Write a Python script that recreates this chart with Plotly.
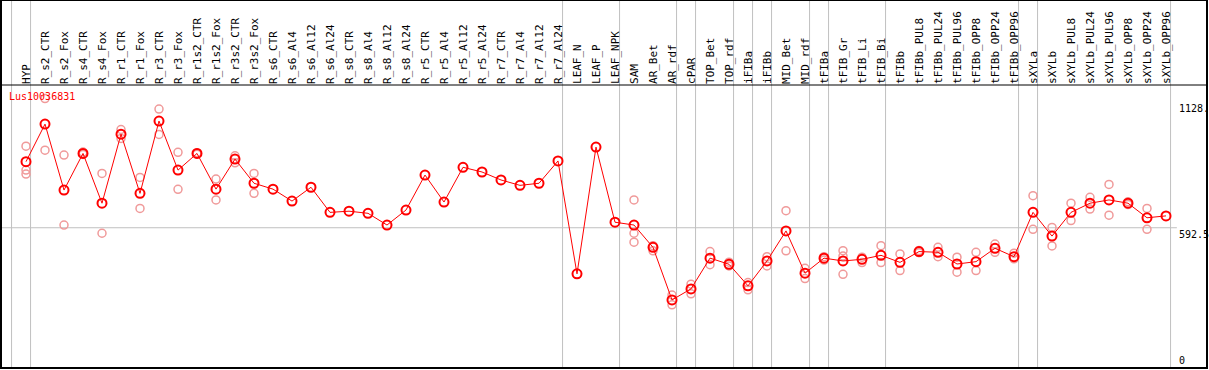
import plotly.graph_objects as go

categories = ["HYP", "R_s2_CTR", "R_s2_Fox", "R_s4_CTR", "R_s4_Fox", "R_r1_CTR", "R_r1_Fox",
              "R_r3_CTR", "R_r3_Fox", "R_r1s2_CTR", "R_r1s2_Fox", "R_r3s2_CTR", "R_r3s2_Fox",
              "R_s6_CTR", "R_s6_Al4", "R_s6_Al12", "R_s6_Al24", "R_s8_CTR", "R_s8_Al4",
              "R_s8_Al12", "R_s8_Al24", "R_r5_CTR", "R_r5_Al4", "R_r5_Al12", "R_r5_Al24",
              "R_r7_CTR", "R_r7_Al4", "R_r7_Al12", "R_r7_Al24", "LEAF_N", "LEAF_P", "LEAF_NPK",
              "SAM", "AR_Bet", "AR_rdf", "cPAR", "TOP_Bet", "TOP_rdf", "iFIBa", "iFIBb",
              "MID_Bet", "MID_rdf", "tFIBa", "tFIB_Gr", "tFIB_Li", "tFIB_Bi", "tFIBb",
              "tFIBb_PUL8", "tFIBb_PUL24", "tFIBb_PUL96", "tFIBb_OPP8", "tFIBb_OPP24",
              "tFIBb_OPP96", "sXYLa", "sXYLb", "sXYLb_PUL8", "sXYLb_PUL24", "sXYLb_PUL96",
              "sXYLb_OPP8", "sXYLb_OPP24", "sXYLb_OPP96"]

mean_values = [874, 1034, 753, 909, 697, 991, 739, 1047, 838, 909, 757, 885, 782,
               757, 706, 765, 658, 663, 654, 604, 668, 817, 702, 850, 830,
               796, 773, 782, 877, 396, 936, 616,
               604, 509, 285, 332, 463, 437, 345, 451, 579, 399,
               463, 451, 458, 475, 445, 491, 488, 438, 448, 505, 469,
               658, 557, 658, 697, 711, 697, 635, 643]

replicates = [[940, 838, 821], [1143, 923], [902, 604], [915, 905], [824, 569], [1011, 973],
              [807, 675], [1098, 990], [914, 756], [912, 906], [800, 711], [899, 869], [824, 739],
              [], [], [], [], [], [], [], [], [], [], [], [], [], [], [], [],
              [], [], [],
              [711, 569, 531], [516, 494], [306, 264], [352, 311], [491, 435], [446, 430],
              [359, 328], [469, 430], [665, 494], [420, 376],
              [469, 455], [495, 472, 394], [467, 444], [516, 444], [481, 410], [496, 486],
              [509, 469], [467, 403], [488, 410], [523, 488], [484, 460],
              [729, 586], [594, 515], [697, 623], [722, 672], [777, 646], [703, 691],
              [675, 586], []]

group_ends = [-1, 0, 28, 31, 34, 35, 37, 38, 39, 41, 42, 45, 52, 53, 60]

y_tick_values = [1128, 592.5, 0]
y_tick_labels = ["1128.", "592.5", "0"]
gene_title = "Lus10036831"

idx = list(range(len(categories)))
rep_x, rep_y = [], []
for i, vals in enumerate(replicates):
    for v in vals:
        rep_x.append(i)
        rep_y.append(v)

fig = go.Figure()
fig.add_trace(go.Scatter(x=rep_x, y=rep_y, mode="markers",
                         marker=dict(symbol="circle-open", size=8, color="#f09a9a",
                                     line=dict(width=1.5, color="#f09a9a")),
                         showlegend=False, hoverinfo="skip"))
fig.add_trace(go.Scatter(x=idx, y=mean_values, mode="lines+markers",
                         line=dict(color="#ff0000", width=1),
                         marker=dict(symbol="circle-open", size=9, color="#ff0000",
                                     line=dict(width=2, color="#ff0000")),
                         showlegend=False))

H_TOP = 85
PLOT_H = 283
top_paper = (PLOT_H + H_TOP) / PLOT_H

shapes = []
for g in group_ends:
    shapes.append(dict(type="line", xref="x", yref="paper", x0=g + 0.24, x1=g + 0.24,
                       y0=0, y1=top_paper, line=dict(color="#c0c0c0", width=1), layer="below"))
shapes.append(dict(type="line", xref="paper", yref="y", x0=0, x1=0.975,
                   y0=y_tick_values[1], y1=y_tick_values[1],
                   line=dict(color="#c0c0c0", width=1), layer="below"))
shapes.append(dict(type="line", xref="paper", yref="paper", x0=0, x1=1, y0=1, y1=1,
                   line=dict(color="black", width=1)))
shapes.append(dict(type="rect", xref="paper", yref="paper", x0=0, x1=1, y0=0, y1=top_paper,
                   line=dict(color="black", width=2)))

annotations = []
for v, t in zip(y_tick_values, y_tick_labels):
    annotations.append(dict(xref="paper", yref="y", x=0.976, y=v, text=t, showarrow=False,
                            xanchor="left", yanchor="bottom" if v == 0 else "top",
                            font=dict(family="DejaVu Sans Mono", size=10, color="black"),
                            borderpad=0))
annotations.append(dict(xref="paper", yref="paper", x=0.006, y=0.9576, text=gene_title,
                        showarrow=False, xanchor="left", yanchor="middle",
                        font=dict(family="DejaVu Sans Mono", size=10, color="#ff0000"),
                        borderpad=0))

fig.update_layout(
    width=1209, height=370,
    margin=dict(l=1, r=2, t=H_TOP, b=2, autoexpand=False),
    paper_bgcolor="white", plot_bgcolor="white",
    shapes=shapes, annotations=annotations,
    xaxis=dict(range=[-25 / 19, 1181 / 19], side="top", tickmode="array", tickvals=idx,
               ticktext=categories, tickangle=-90, ticks="", showgrid=False,
               zeroline=False, showline=False, automargin=False,
               tickfont=dict(family="DejaVu Sans Mono", size=11, color="black")),
    yaxis=dict(range=[-5, 1200.6], showticklabels=False, showgrid=False, zeroline=False,
               ticks="", showline=False, automargin=False),
)

fig.write_html("out.html", config={"displayModeBar": False},
               post_script="document.body.style.margin='0';document.body.style.overflow='hidden';")
